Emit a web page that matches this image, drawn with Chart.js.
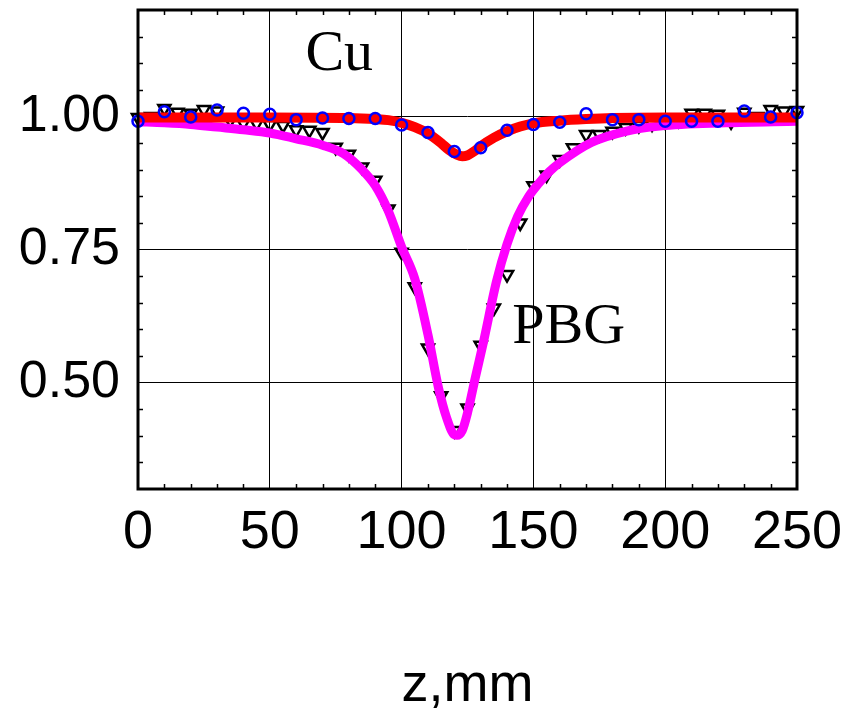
<!DOCTYPE html>
<html><head><meta charset="utf-8">
<script src="https://cdn.jsdelivr.net/npm/chart.js@4"></script>
<style>html,body{margin:0;padding:0;background:#fff}</style>
</head><body>
<canvas id="c" width="859" height="717"></canvas>
<script>
// ---- data ----
const xTicks = [0, 50, 100, 150, 200, 250];
const yTicks = [0.50, 0.75, 1.00];
const xTitle = 'z,mm';

// Cu simulation (red line)
const cuSimZ = [0, 50, 80, 90, 95, 100, 105, 110, 115, 118, 121, 123, 125, 128, 130, 135, 140, 145, 150, 160, 170, 180, 200, 250];
const cuSimV = [0.998, 0.998, 0.997, 0.995, 0.993, 0.988, 0.980, 0.968, 0.950, 0.937, 0.928, 0.925, 0.927, 0.936, 0.944, 0.960, 0.972, 0.981, 0.987, 0.992, 0.995, 0.997, 0.998, 0.998];

// PBG simulation (magenta line)
const pbgSimZ = [0, 10, 20, 30, 40, 50, 60, 70, 78, 85, 90, 95, 100, 105, 110, 114, 117, 120, 121, 123, 125, 128, 131, 136, 140, 144, 148, 152, 156, 160, 172, 185, 198, 223, 250];
const pbgSimV = [0.990, 0.988, 0.985, 0.980, 0.975, 0.969, 0.958, 0.946, 0.930, 0.900, 0.870, 0.822, 0.755, 0.695, 0.590, 0.490, 0.435, 0.402, 0.401, 0.410, 0.443, 0.510, 0.575, 0.690, 0.760, 0.812, 0.848, 0.874, 0.896, 0.913, 0.951, 0.972, 0.982, 0.988, 0.991];

// Cu measurement (blue circles)
const cuMeasZ = [0, 10, 20, 30, 40, 50, 60, 70, 80, 90, 100, 110, 120, 130, 140, 150, 160, 170, 180, 190, 200, 210, 220, 230, 240, 250];
const cuMeasV = [0.991, 1.009, 0.999, 1.012, 1.006, 1.004, 0.994, 0.997, 0.996, 0.996, 0.984, 0.970, 0.934, 0.941, 0.974, 0.985, 0.989, 1.005, 0.994, 0.994, 0.991, 0.991, 0.991, 1.010, 0.999, 1.007];

// PBG measurement (black triangles)
const pbgMeasZ = [0, 5, 10, 15, 20, 25, 30, 35, 40, 45, 50, 55, 60, 65, 70, 75, 80, 85, 90, 95, 100, 105, 110, 115, 120, 125, 130, 135, 140, 145, 150, 155, 160, 165, 170, 175, 180, 185, 190, 195, 200, 205, 210, 215, 220, 225, 230, 235, 240, 245, 250];
const pbgMeasV = [0.998, 1.000, 1.015, 1.008, 1.006, 1.013, 1.010, 0.993, 0.988, 0.987, 0.985, 0.983, 0.975, 0.974, 0.970, 0.942, 0.929, 0.905, 0.880, 0.826, 0.745, 0.680, 0.565, 0.475, 0.410, 0.452, 0.570, 0.640, 0.703, 0.800, 0.870, 0.890, 0.919, 0.941, 0.966, 0.966, 0.972, 0.979, 0.983, 0.986, 0.990, 0.993, 1.006, 1.006, 1.004, 0.990, 1.008, 1.000, 1.013, 1.010, 1.011];

const labels = [
  {text: 'Cu', z: 63.5, v: 1.088},
  {text: 'PBG', z: 142, v: 0.575}
];

const pts = (zs, vs) => zs.map((z, i) => ({x: z, y: vs[i]}));
const SANS = '"Liberation Sans", Arial, sans-serif';
const SERIF = '"Liberation Serif", "Times New Roman", serif';

const textPlugin = {
  id: 'textLabels',
  beforeDraw(chart) {
    const {ctx, scales: {x, y}} = chart;
    ctx.save();
    ctx.fillStyle = '#000';
    ctx.font = '58px ' + SERIF;
    ctx.textAlign = 'left';
    ctx.textBaseline = 'alphabetic';
    labels.forEach(l => ctx.fillText(l.text, x.getPixelForValue(l.z), y.getPixelForValue(l.v)));
    ctx.restore();
  }
};

const framePlugin = {
  id: 'frame',
  afterDatasetsDraw(chart) {
    const {ctx, chartArea: a, scales: {x, y}} = chart;
    ctx.save();
    ctx.strokeStyle = '#000';
    ctx.lineWidth = 1.5;
    const L = 5;
    for (let z = 10; z < 250; z += 10) {
      if (z % 50 === 0) continue;
      const px = Math.round(x.getPixelForValue(z)) + 0.5;
      ctx.beginPath();
      ctx.moveTo(px, a.bottom); ctx.lineTo(px, a.bottom - L);
      ctx.moveTo(px, a.top); ctx.lineTo(px, a.top + L);
      ctx.stroke();
    }
    for (let k = 7; k <= 23; k++) {
      const v = k * 0.05;
      if (k % 5 === 0) continue;
      const py = Math.round(y.getPixelForValue(v)) + 0.5;
      ctx.beginPath();
      ctx.moveTo(a.left, py); ctx.lineTo(a.left + L, py);
      ctx.moveTo(a.right, py); ctx.lineTo(a.right - L, py);
      ctx.stroke();
    }
    ctx.lineWidth = 3;
    ctx.strokeRect(a.left, a.top, a.right - a.left, a.bottom - a.top);
    ctx.restore();
  }
};

new Chart(document.getElementById('c'), {
  type: 'scatter',
  data: {
    datasets: [
      {label: 'Cu meas', data: pts(cuMeasZ, cuMeasV), order: 1, pointStyle: 'circle', pointRadius: 5.5,
       borderColor: '#0000ff', backgroundColor: 'rgba(0,0,0,0)', borderWidth: 2.5, showLine: false, clip: 10},
      {label: 'Cu sim', data: pts(cuSimZ, cuSimV), order: 2, showLine: true, pointRadius: 0,
       borderColor: '#ff0000', borderWidth: 10, cubicInterpolationMode: 'monotone', clip: 10},
      {label: 'PBG sim', data: pts(pbgSimZ, pbgSimV), order: 3, showLine: true, pointRadius: 0,
       borderColor: '#ff00ff', borderWidth: 9, cubicInterpolationMode: 'monotone', clip: 10},
      {label: 'PBG meas', data: pts(pbgMeasZ, pbgMeasV), order: 4, pointStyle: 'triangle', rotation: 180, pointRadius: 7,
       borderColor: '#000', backgroundColor: 'rgba(0,0,0,0)', borderWidth: 2.5, showLine: false, clip: 10}
    ]
  },
  options: {
    responsive: false,
    animation: false,
    devicePixelRatio: 1,
    layout: {padding: {left: 0, right: 62, top: 10, bottom: 0}},
    plugins: {legend: {display: false}, tooltip: {enabled: false}},
    scales: {
      x: {
        type: 'linear', min: 0, max: 250,
        afterBuildTicks: s => { s.ticks = xTicks.map(v => ({value: v})); },
        afterFit: s => { s.height = 228; s.paddingLeft = 0; s.paddingRight = 0; },
        grid: {color: '#000', lineWidth: 1, drawTicks: false},
        border: {display: false},
        ticks: {color: '#000', font: {family: SANS, size: 54}, padding: 12, maxRotation: 0, autoSkip: false},
        title: {display: true, text: xTitle, color: '#000', font: {family: SANS, size: 54, lineHeight: 1}, padding: {top: 0, bottom: 4}}
      },
      y: {
        type: 'linear', min: 0.3, max: 1.2,
        afterBuildTicks: s => { s.ticks = yTicks.map(v => ({value: v})); },
        afterFit: s => { s.width = 138; s.paddingTop = 0; s.paddingBottom = 0; },
        grid: {color: '#000', lineWidth: 1, drawTicks: false},
        border: {display: false},
        ticks: {color: '#000', font: {family: SANS, size: 52}, padding: 18, callback: v => v.toFixed(2), autoSkip: false}
      }
    }
  },
  plugins: [textPlugin, framePlugin]
});
</script>
</body></html>
